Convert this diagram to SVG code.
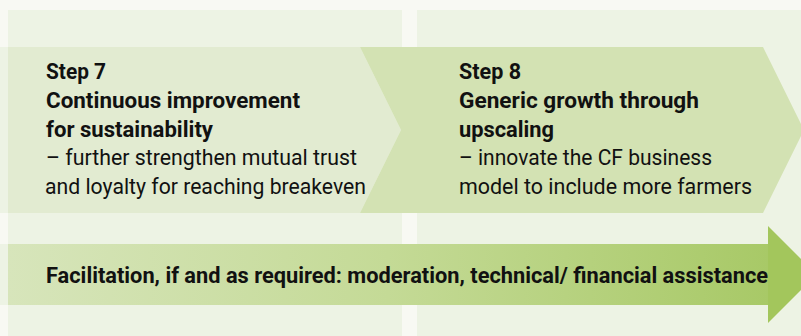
<svg xmlns="http://www.w3.org/2000/svg" width="801" height="336" viewBox="0 0 801 336">
  <defs>
    <linearGradient id="barGrad" x1="8" y1="0" x2="768" y2="0" gradientUnits="userSpaceOnUse">
      <stop offset="0" stop-color="#d7e5bb"/>
      <stop offset="0.5" stop-color="#c4da96"/>
      <stop offset="1" stop-color="#a8c967"/>
    </linearGradient>
    <style>
      .bg { fill: #f8f9f3; }
      .panel { fill: #edf3e4; }
      .s7 { fill: #e2ebd1; }
      .s8 { fill: #d3e2b3; }
      .head { fill: #a3c65c; }
      .t { font-family: Roboto, "Liberation Sans", sans-serif; font-size: 22px; fill: #111111; }
      .b { font-weight: bold; }
    </style>
  </defs>
  <rect class="bg" x="0" y="0" width="801" height="336"/>
  <g id="panels">
    <rect class="panel" x="0" y="47" width="8" height="166"/>
    <rect class="panel" x="0" y="244" width="8" height="61"/>
    <rect class="panel" x="8" y="10" width="394" height="326"/>
    <rect class="panel" x="417" y="10" width="384" height="326"/>
  </g>
  <g id="step7">
    <polygon class="s7" points="8,47 360,47 401,130 360,213 8,213"/>
    <text class="t b" x="46" y="79" textLength="60" lengthAdjust="spacingAndGlyphs">Step 7</text>
    <text class="t b" x="46" y="107.75" textLength="254" lengthAdjust="spacingAndGlyphs">Continuous improvement</text>
    <text class="t b" x="46" y="136.5" textLength="167" lengthAdjust="spacingAndGlyphs">for sustainability</text>
    <text class="t" x="46" y="165.25" textLength="311" lengthAdjust="spacingAndGlyphs">– further strengthen mutual trust</text>
    <text class="t" x="45" y="194" textLength="321" lengthAdjust="spacingAndGlyphs">and loyalty for reaching breakeven</text>
  </g>
  <g id="step8">
    <polygon class="s8" points="360,47 763,47 804,130 763,213 360,213 401,130"/>
    <text class="t b" x="459" y="79" textLength="62" lengthAdjust="spacingAndGlyphs">Step 8</text>
    <text class="t b" x="459" y="107.75" textLength="240" lengthAdjust="spacingAndGlyphs">Generic growth through</text>
    <text class="t b" x="459" y="136.5" textLength="95" lengthAdjust="spacingAndGlyphs">upscaling</text>
    <text class="t" x="459" y="165.25" textLength="253" lengthAdjust="spacingAndGlyphs">– innovate the CF business</text>
    <text class="t" x="459" y="194" textLength="293" lengthAdjust="spacingAndGlyphs">model to include more farmers</text>
  </g>
  <g id="facilitation">
    <rect x="8" y="244" width="760" height="61" fill="url(#barGrad)"/>
    <polygon class="head" points="768,226 816.5,274.5 768,323"/>
    <text class="t b" x="46" y="283" textLength="722" lengthAdjust="spacingAndGlyphs">Facilitation, if and as required: moderation, technical/ financial assistance</text>
  </g>
  <g id="connectors"/>
</svg>
